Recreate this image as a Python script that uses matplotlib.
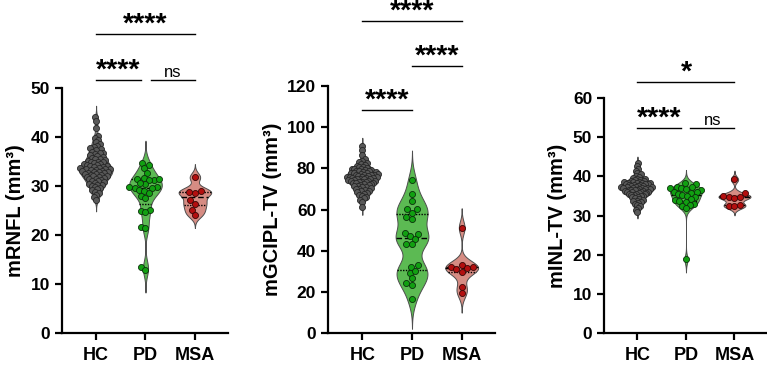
"""
Violin + scatter plots of retinal layer measures by group
"""

import numpy as np
import matplotlib
matplotlib.use('Agg')
import matplotlib.pyplot as plt

plt.rcParams['font.family'] = ['Liberation Sans', 'DejaVu Sans']

groups = ['HC', 'PD', 'MSA']

# mRNFL (mm3)
hc_rnfl = [44.0, 43.2, 41.9, 40.3, 39.8, 39.4, 38.9, 38.6, 38.2, 38.0, 37.7, 37.5,
           37.3, 37.0, 36.8, 36.7, 36.5, 36.3, 36.1, 35.9, 35.8, 35.6, 35.5, 35.3,
           35.2, 35.0, 34.9, 34.8, 34.7, 34.5, 34.4, 34.3, 34.2, 34.1, 34.0, 33.9,
           33.8, 33.7, 33.6, 33.5, 33.4, 33.4, 33.3, 33.2, 33.1, 33.0, 32.9, 32.9,
           32.8, 32.7, 32.6, 32.5, 32.4, 32.3, 32.2, 32.1, 32.0, 31.9, 31.8, 31.7,
           31.5, 31.4, 31.3, 31.1, 31.0, 30.8, 30.7, 30.5, 30.3, 30.2, 30.0, 29.8,
           29.6, 29.3, 29.1, 28.8, 28.5, 28.1, 27.7, 27.2]
pd_rnfl = [34.6, 34.2, 33.6, 32.6, 31.6, 31.4, 31.3, 31.5, 31.2, 30.4, 30.6, 29.7,
           29.6, 29.8, 29.5, 29.2, 29.0, 28.5, 28.0, 27.6, 25.2, 25.0, 24.6, 21.7,
           21.4, 13.5, 12.9]
msa_rnfl = [31.8, 29.0, 28.8, 28.6, 27.1, 26.3, 25.2, 24.1]

# mGCIPL-TV (mm3)
hc_gcipl = [91.0, 88.8, 86.6, 84.5, 83.8, 83.0, 82.5, 82.0, 81.6, 81.2, 80.8, 80.5,
            80.2, 79.9, 79.6, 79.5, 79.3, 79.0, 78.8, 78.6, 78.5, 78.3, 78.0, 77.8,
            77.6, 77.5, 77.4, 77.2, 77.0, 76.9, 76.8, 76.6, 76.4, 76.2, 76.0, 75.9,
            75.8, 75.6, 75.5, 75.3, 75.1, 75.0, 74.9, 74.8, 74.6, 74.4, 74.2, 74.0,
            73.9, 73.8, 73.6, 73.4, 73.2, 73.0, 72.9, 72.8, 72.6, 72.3, 72.0, 71.8,
            71.5, 71.2, 71.0, 70.7, 70.4, 70.1, 69.8, 69.5, 69.2, 68.8, 68.4, 68.0,
            67.6, 67.2, 66.8, 66.2, 65.5, 64.8, 63.8, 61.2]
pd_gcipl = [74.3, 67.4, 64.1, 60.1, 60.1, 58.5, 55.2, 56.2, 48.4, 48.0, 47.1, 45.5,
            43.2, 43.0, 32.2, 33.0, 29.3, 30.3, 26.6, 23.3, 24.1, 16.4]
msa_gcipl = [51.2, 33.0, 32.3, 32.0, 31.4, 31.2, 29.8, 22.3, 19.3]

# mINL-TV (mm3)
hc_inl = [43.3, 42.6, 41.9, 41.3, 40.9, 40.5, 40.2, 39.9, 39.6, 39.4, 39.2, 39.1,
          39.0, 38.8, 38.75, 38.6, 38.55, 38.5, 38.4, 38.3, 38.25, 38.2, 38.1, 38.0,
          37.95, 37.9, 37.8, 37.7, 37.65, 37.6, 37.5, 37.4, 37.35, 37.3, 37.2, 37.1,
          37.05, 37.0, 36.9, 36.85, 36.8, 36.7, 36.6, 36.5, 36.45, 36.4, 36.3, 36.2,
          36.1, 36.0, 35.95, 35.9, 35.8, 35.7, 35.6, 35.5, 35.4, 35.3, 35.2, 35.1,
          35.0, 34.8, 34.6, 34.4, 34.2, 34.0, 33.8, 33.6, 33.4, 33.2, 33.0, 32.7,
          32.4, 32.0, 31.5, 31.0]
pd_inl = [38.3, 38.0, 37.3, 37.2, 37.0, 36.9, 36.8, 36.4, 36.1, 36.0, 35.8, 35.4,
          35.2, 35.0, 34.6, 34.2, 33.9, 33.7, 33.5, 33.0, 32.7, 32.5, 31.8, 18.8]
msa_inl = [39.2, 35.7, 34.9, 34.8, 34.6, 34.5, 32.7, 32.5, 32.3]

ylabels = ['mRNFL (mm³)', 'mGCIPL-TV (mm³)', 'mINL-TV (mm³)']
ymax = [50, 120, 60]
ystep = [10, 20, 10]

# significance: (x1, x2, y_line, text)
sig_rnfl = [(0, 0.91, 51.6, '****'), (1.11, 2, 51.6, 'ns'), (0, 2, 61.0, '****')]
sig_gcipl = [(0, 1, 108.4, '****'), (1, 2, 129.7, '****'), (0, 2, 151.6, '****')]
sig_inl = [(0, 0.9, 52.3, '****'), (1.08, 2, 52.3, 'ns'), (0, 2, 64.1, '*')]

violin_col = ['#7f7f7f', '#5cba53', '#d68c83']
point_col = ['#595959', '#11a011', '#b30f0f']
edge_col = ['#262626', '#0b300b', '#3a0505']

W, H = 767, 365
XLIM = (-0.69, 2.67)
HALF = 0.33


def kde(vals, grid, bw):
    v = np.asarray(vals)[:, None]
    return np.exp(-0.5 * ((grid[None, :] - v) / bw) ** 2).sum(axis=0)


def swarm(vals, ypx, d):
    y = np.asarray(vals) * ypx
    xs = np.zeros(len(y))
    px, py = [], []
    for i in np.argsort(y):
        cands = [0.0]
        for a, b in zip(px, py):
            dy = y[i] - b
            if abs(dy) < d:
                dx = np.sqrt(d * d - dy * dy)
                cands += [a - dx, a + dx]
        cands.sort(key=abs)
        for c in cands:
            if all((c - a) ** 2 + (y[i] - b) ** 2 >= d * d - 1e-6 for a, b in zip(px, py)):
                break
        xs[i] = c
        px.append(c)
        py.append(y[i])
    return xs


def draw_panel(ax, data, ylabel, top, step, sigs, axw_px, axh_px):
    xpx = axw_px / (XLIM[1] - XLIM[0])
    ypx = axh_px / top
    for i, vals in enumerate(data):
        vals = np.asarray(vals)
        bw = 0.55 * vals.std(ddof=1) * len(vals) ** (-0.2)
        grid = np.linspace(vals.min() - 3 * bw, vals.max() + 3 * bw, 400)
        dens = kde(vals, grid, bw)
        w = dens / dens.max() * HALF
        ax.fill_betweenx(grid, i - w, i + w, facecolor=violin_col[i],
                         edgecolor='#4d4d4d', linewidth=0.7, zorder=1)
        if i > 0:
            for q, ls in zip([25, 50, 75], [(0, (1, 1)), (0, (4, 2)), (0, (1, 1))]):
                yq = np.percentile(vals, q)
                wq = np.interp(yq, grid, w)
                ax.plot([i - wq, i + wq], [yq, yq], color='black', lw=1.0,
                        linestyle=ls, zorder=2)
        d = 6.0 * (0.7 if i == 0 else 1.0)
        offs = swarm(vals, ypx, d)
        # keep the scatter inside roughly the violin's width
        lim = 16.0
        if np.abs(offs).max() > lim:
            offs = offs * lim / np.abs(offs).max()
        ax.scatter(i + offs / xpx, vals, s=19, color=point_col[i], edgecolors=edge_col[i],
                   linewidths=0.6, zorder=3, clip_on=False)

    for x1, x2, yl, txt in sigs:
        ax.plot([x1, x2], [yl, yl], color='black', lw=1.0, clip_on=False)
        if txt == 'ns':
            ax.text((x1 + x2) / 2, yl + 3 / ypx, txt, ha='center', va='baseline',
                    fontsize=12)
        else:
            ax.text((x1 + x2) / 2, yl + 2.5 / ypx, txt, ha='center', va='baseline',
                    fontsize=20.5, fontweight='bold')

    ax.set_xlim(*XLIM)
    ax.set_ylim(0, top)
    ax.set_yticks(np.arange(0, top + 1, step))
    ax.set_xticks(range(3))
    ax.set_xticklabels(groups, fontsize=13, fontweight='bold')
    for lab in ax.get_yticklabels():
        lab.set_fontsize(12.5)
        lab.set_fontweight('bold')
    ax.set_ylabel(ylabel, fontsize=14.5, fontweight='bold')
    ax.spines['top'].set_visible(False)
    ax.spines['right'].set_visible(False)
    ax.spines['left'].set_linewidth(1.6)
    ax.spines['bottom'].set_linewidth(1.6)
    ax.tick_params(width=1.6, length=5)
    ax.tick_params(axis='x', pad=5)


fig = plt.figure(figsize=(W / 100, H / 100), dpi=100)

# axes boxes in pixels: left, right, top (bottom is y pixel 333)
boxes = [(62, 228, 88), (328, 495, 86), (604, 767, 98)]
datasets = [[hc_rnfl, pd_rnfl, msa_rnfl],
            [hc_gcipl, pd_gcipl, msa_gcipl],
            [hc_inl, pd_inl, msa_inl]]
sigsets = [sig_rnfl, sig_gcipl, sig_inl]

for k in range(3):
    l, r, t = boxes[k]
    ax = fig.add_axes([l / W, (H - 333) / H, (r - l) / W, (333 - t) / H])
    draw_panel(ax, datasets[k], ylabels[k], ymax[k], ystep[k], sigsets[k],
               r - l, 333 - t)

fig.savefig('out.png', dpi=100)
